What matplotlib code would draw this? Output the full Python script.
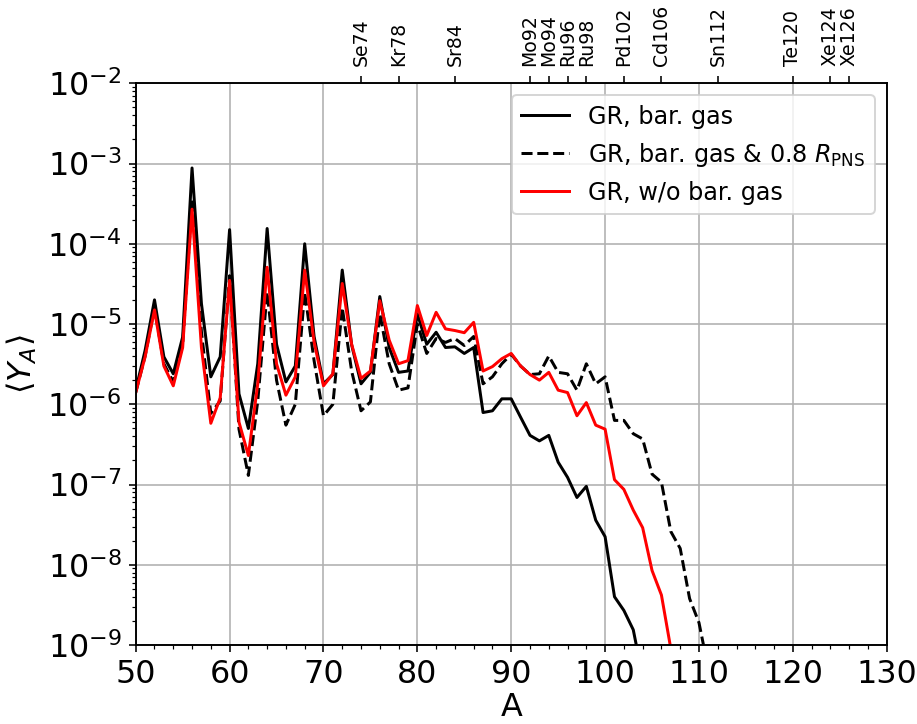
import numpy as np
import matplotlib

matplotlib.use("Agg")
import matplotlib.pyplot as plt
from matplotlib.ticker import MultipleLocator

# mass numbers
A_bar = np.arange(50, 105)
A_pns = np.arange(50, 112)
A_nogas = np.arange(50, 109)

# <Y_A>, GR with baryonic gas
Y_bar = [
    1.5e-6, 4.7e-6, 2.0e-5, 3.9e-6, 2.4e-6, 6.9e-6, 8.8e-4, 1.8e-5, 2.2e-6, 3.9e-6,
    1.5e-4, 1.35e-6, 5.0e-7, 3.2e-6, 1.55e-4, 5.6e-6, 1.9e-6, 3.0e-6, 1.0e-4, 7e-6,
    1.8e-6, 2.35e-6, 4.7e-5, 5.5e-6, 1.8e-6, 2.5e-6, 2.2e-5, 5.1e-6, 2.5e-6, 2.6e-6,
    1.34e-5, 5.6e-6, 7.9e-6, 5.1e-6, 5.2e-6, 4.3e-6, 5.1e-6, 7.9e-7, 8.3e-7, 1.17e-6,
    1.17e-6, 6.9e-7, 4.1e-7, 3.5e-7, 4.1e-7, 1.9e-7, 1.23e-7, 6.9e-8, 9.5e-8, 3.6e-8,
    2.24e-8, 4.0e-9, 2.7e-9, 1.55e-9, 4e-10,
]

# <Y_A>, GR with baryonic gas and 0.8 R_PNS
Y_pns = [
    1.4e-6, 4.0e-6, 1.6e-5, 3.2e-6, 1.9e-6, 5.5e-6, 3.5e-4, 8e-6, 7.7e-7, 1.1e-6,
    4e-5, 4.9e-7, 1.3e-7, 1.1e-6, 2.5e-5, 2.0e-6, 5.5e-7, 1.0e-6, 2.5e-5, 3.5e-6,
    7.2e-7, 1.0e-6, 1.6e-5, 2.6e-6, 8.3e-7, 1.07e-6, 1.35e-5, 3.2e-6, 1.5e-6, 1.6e-6,
    1.0e-5, 4.3e-6, 6.6e-6, 5.9e-6, 6.6e-6, 5.4e-6, 7e-6, 1.8e-6, 2.2e-6, 3.2e-6,
    4.2e-6, 3.0e-6, 2.35e-6, 2.4e-6, 4.0e-6, 2.5e-6, 2.4e-6, 1.5e-6, 3.2e-6, 1.8e-6,
    2.2e-6, 6.3e-7, 6.3e-7, 4.3e-7, 3.7e-7, 1.35e-7, 1.07e-7, 2.6e-8, 1.6e-8, 3.8e-9,
    1.9e-9, 5e-10,
]

# <Y_A>, GR without baryonic gas
Y_nogas = [
    1.4e-6, 3.9e-6, 1.5e-5, 3.0e-6, 1.7e-6, 5.1e-6, 2.7e-4, 5.1e-6, 5.8e-7, 1.2e-6,
    3.5e-5, 6e-7, 2.3e-7, 1.8e-6, 5.1e-5, 3.2e-6, 1.3e-6, 2.2e-6, 4.7e-5, 6e-6,
    1.7e-6, 2.4e-6, 3.2e-5, 5.6e-6, 2.1e-6, 2.6e-6, 1.95e-5, 6.3e-6, 3.2e-6, 3.5e-6,
    1.7e-5, 7.2e-6, 1.4e-5, 8.7e-6, 8.3e-6, 7.8e-6, 1.05e-5, 2.6e-6, 2.95e-6, 3.7e-6,
    4.3e-6, 3.0e-6, 2.35e-6, 2.0e-6, 2.5e-6, 1.5e-6, 1.4e-6, 7.2e-7, 1.05e-6, 5.5e-7,
    4.9e-7, 1.15e-7, 8.7e-8, 4.8e-8, 2.9e-8, 8.5e-9, 4.2e-9, 9e-10, 1.5e-10,
]

# p-nuclei marked on the top axis
p_A = [74, 78, 84, 92, 94, 96, 98, 102, 106, 112, 120, 124, 126]
p_names = ["Se74", "Kr78", "Sr84", "Mo92", "Mo94", "Ru96", "Ru98",
           "Pd102", "Cd106", "Sn112", "Te120", "Xe124", "Xe126"]

dpi = 143.3
fig = plt.figure(figsize=(917 / dpi, 724 / dpi), dpi=dpi)
ax = fig.add_axes([0.148, 0.109, 0.819, 0.776])

ax.plot(A_bar, Y_bar, color="black", lw=1.5, label="GR, bar. gas")
ax.plot(A_pns, Y_pns, color="black", lw=1.5, ls="--",
        label=r"GR, bar. gas & 0.8 $R_{\rm PNS}$")
ax.plot(A_nogas, Y_nogas, color="red", lw=1.5, label="GR, w/o bar. gas")

ax.set_yscale("log")
ax.set_xlim(50, 130)
ax.set_ylim(1e-9, 1e-2)
ax.xaxis.set_major_locator(MultipleLocator(10))
ax.xaxis.set_minor_locator(MultipleLocator(2))
ax.grid(which="major", color="#b0b0b0", lw=0.8)
ax.tick_params(axis="both", which="major", labelsize=16)
ax.set_xlabel("A", fontsize=16, labelpad=1)
ax.set_ylabel(r"$\langle Y_A \rangle$", fontsize=16)
ax.legend(loc="upper right", fontsize=12)

top = ax.twiny()
top.set_xlim(ax.get_xlim())
top.set_xticks(p_A)
top.set_xticklabels(p_names, rotation=90, fontsize=9.5)
top.tick_params(axis="x", pad=5)

fig.savefig("out.png", dpi=dpi)
